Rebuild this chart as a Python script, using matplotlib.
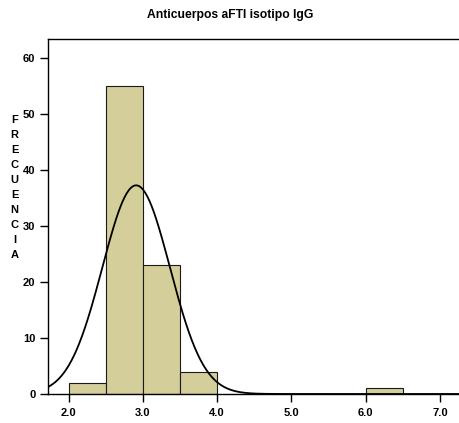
import numpy as np
import matplotlib
matplotlib.use("Agg")
import matplotlib.pyplot as plt

plt.rcParams['font.family'] = ['Liberation Sans', 'DejaVu Sans']

# histogram bins (lower edge, upper edge) and counts
bin_left = [2.0, 2.5, 3.0, 3.5, 6.0]
bin_right = [2.5, 3.0, 3.5, 4.0, 6.5]
counts = [2, 55, 23, 4, 1]

# fitted normal curve parameters
fit_mean = 2.91
fit_sd = 0.455
n_total = sum(counts)
bin_width = 0.5

x_ticks = [2.0, 3.0, 4.0, 5.0, 6.0, 7.0]
y_ticks = [0, 10, 20, 30, 40, 50, 60]

fig = plt.figure(figsize=(4.6, 4.23), dpi=100)
ax = fig.add_axes([0.1043, 0.0686, 0.8957, 0.8392])

widths = [r - l for l, r in zip(bin_left, bin_right)]
ax.bar(bin_left, counts, width=widths, align='edge', color='#d4cf9a',
       edgecolor='#1a1a1a', linewidth=0.8, zorder=2)

xs = np.linspace(1.72, 7.3, 400)
ys = n_total * bin_width / (fit_sd * np.sqrt(2 * np.pi)) * np.exp(-0.5 * ((xs - fit_mean) / fit_sd) ** 2)
ax.plot(xs, ys, color='black', linewidth=1.3, zorder=3)

ax.set_xlim(1.723, 7.27)
ax.set_ylim(0, 63.4)
ax.set_xticks(x_ticks)
ax.set_xticklabels(['%.1f' % v for v in x_ticks])
ax.set_yticks(y_ticks)
ax.tick_params(axis='both', direction='out', length=6, width=1, labelsize=8)
for lab in ax.get_xticklabels() + ax.get_yticklabels():
    lab.set_fontweight('bold')
ax.tick_params(axis='x', pad=4)
ax.tick_params(axis='y', pad=3)

for side in ['left', 'bottom', 'top']:
    ax.spines[side].set_linewidth(1.0)
ax.spines['right'].set_visible(False)

fig.text(0.5, 0.965, 'Anticuerpos aFTI isotipo IgG', ha='center', va='center',
         fontsize=8.7, fontweight='bold')
fig.text(0.032, 0.556, '\n'.join('FRECUENCIA'), ha='center', va='center',
         fontsize=8, fontweight='bold', linespacing=1.62)

fig.savefig('out.png', dpi=100)
